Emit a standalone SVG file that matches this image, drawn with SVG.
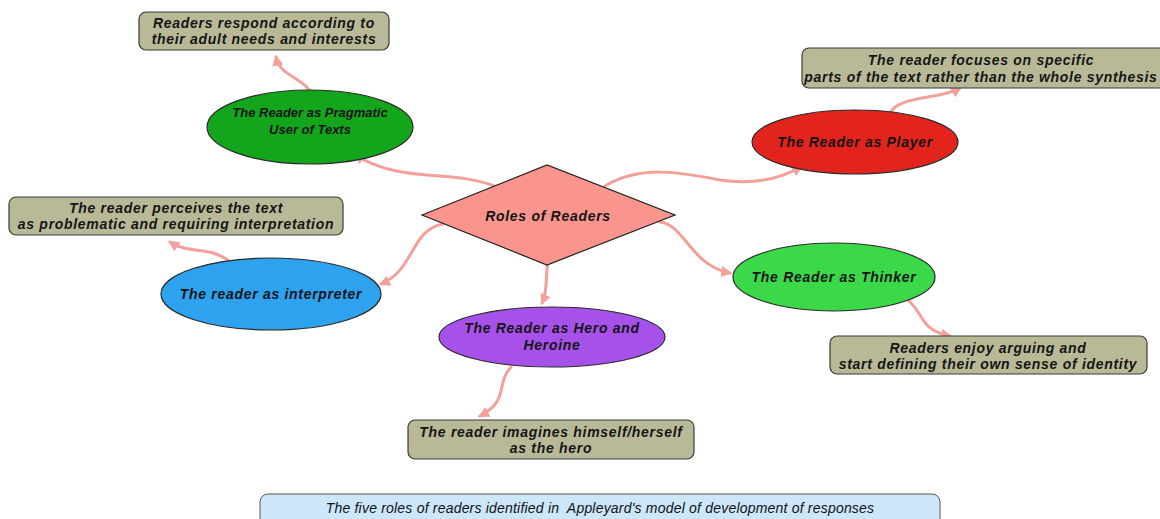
<svg xmlns="http://www.w3.org/2000/svg" width="1160" height="519" viewBox="0 0 1160 519">
  <style>
    text { font-family: "Liberation Sans", Arial, sans-serif; font-style: italic; font-weight: bold; font-size: 14px; letter-spacing: 0.7px; text-anchor: middle; fill: #151515; }
    .note rect { fill: #b9b997; stroke: #3a3a3a; stroke-width: 1.2; }
    .role ellipse { stroke: #2a2a2a; stroke-width: 1.2; }
    .link { fill: none; stroke: #f3a09a; stroke-width: 3; stroke-linecap: round; marker-end: url(#head); }
    .caption rect { fill: #cce6fa; stroke: #555; stroke-width: 1; }
    .caption text { font-weight: normal; font-size: 14px; letter-spacing: 0.2px; fill: #111; white-space: pre; }
    #pragmatic-user text { font-size: 13px; letter-spacing: 0; }
  </style>
  <defs>
    <marker id="head" viewBox="0 0 10 10" refX="8" refY="5" markerWidth="11" markerHeight="11" markerUnits="userSpaceOnUse" orient="auto">
      <path d="M0,0 L10,5 L0,10 Z" fill="#f3a09a"/>
    </marker>
  </defs>
  <rect width="1160" height="519" fill="#ffffff"/>

  <!-- connectors -->
  <g id="connectors">
    <path class="link" d="M497,187 C450,168 405,185 355,155"/>
    <path class="link" d="M605,186 C640,165 680,172 720,180 C760,186 785,176 801,167"/>
    <path class="link" d="M443,224 C410,230 415,270 381,284"/>
    <path class="link" d="M660,222 C685,225 690,265 730,273"/>
    <path class="link" d="M548,262 C545,280 548,290 542,303"/>
    <path class="link" d="M310,91 C300,76 280,76 276,57"/>
    <path class="link" d="M890,113 C900,95 940,100 960,88"/>
    <path class="link" d="M228,260 C205,245 190,255 170,242"/>
    <path class="link" d="M511,367 C495,385 510,400 480,416"/>
    <path class="link" d="M908,300 C925,315 920,330 950,336"/>
  </g>

  <!-- central topic -->
  <g id="roles-of-readers">
    <polygon points="422,215 547,165 675,215 547,265" fill="#f9958d" stroke="#222" stroke-width="1.2"/>
    <text x="548" y="221">Roles of Readers</text>
  </g>

  <!-- roles -->
  <g id="pragmatic-user" class="role">
    <ellipse cx="310" cy="127" rx="103" ry="37" fill="#13a51c"/>
    <text x="310" y="117" fill="#0b2e0b">The Reader as Pragmatic</text>
    <text x="310" y="134" fill="#0b2e0b">User of Texts</text>
  </g>
  <g id="player" class="role">
    <ellipse cx="855" cy="142" rx="103" ry="32" fill="#e2241c"/>
    <text x="855" y="147" fill="#3a0606">The Reader as Player</text>
  </g>
  <g id="interpreter" class="role">
    <ellipse cx="271" cy="294" rx="110" ry="36" fill="#2ea2ee"/>
    <text x="271" y="299" fill="#0b1e3a">The reader as interpreter</text>
  </g>
  <g id="hero-heroine" class="role">
    <ellipse cx="552" cy="337" rx="113" ry="30" fill="#a652ea"/>
    <text x="552" y="333" fill="#2a0a55">The Reader as Hero and</text>
    <text x="552" y="350" fill="#2a0a55">Heroine</text>
  </g>
  <g id="thinker" class="role">
    <ellipse cx="834" cy="277" rx="101" ry="34" fill="#3bd84a"/>
    <text x="834" y="282" fill="#0b2e0b">The Reader as Thinker</text>
  </g>

  <!-- descriptions -->
  <g id="note-pragmatic" class="note">
    <rect x="139" y="12" width="250" height="38" rx="7"/>
    <text x="264" y="28">Readers respond according to</text>
    <text x="264" y="44">their adult needs and interests</text>
  </g>
  <g id="note-player" class="note">
    <rect x="802" y="48" width="368" height="40" rx="7"/>
    <text x="981" y="65">The reader focuses on specific</text>
    <text x="981" y="82">parts of the text rather than the whole synthesis</text>
  </g>
  <g id="note-interpreter" class="note">
    <rect x="9" y="197" width="334" height="38" rx="7"/>
    <text x="176" y="213">The reader perceives the text</text>
    <text x="176" y="229">as problematic and requiring interpretation</text>
  </g>
  <g id="note-hero" class="note">
    <rect x="408" y="420" width="286" height="39" rx="7"/>
    <text x="551" y="437">The reader imagines himself/herself</text>
    <text x="551" y="453">as the hero</text>
  </g>
  <g id="note-thinker" class="note">
    <rect x="830" y="336" width="317" height="38" rx="7"/>
    <text x="988" y="353">Readers enjoy arguing and</text>
    <text x="988" y="369">start defining their own sense of identity</text>
  </g>

  <!-- caption -->
  <g id="caption" class="caption">
    <rect x="260" y="494" width="680" height="40" rx="8"/>
    <text x="600" y="513">The five roles of readers identified in  Appleyard's model of development of responses</text>
  </g>
</svg>
